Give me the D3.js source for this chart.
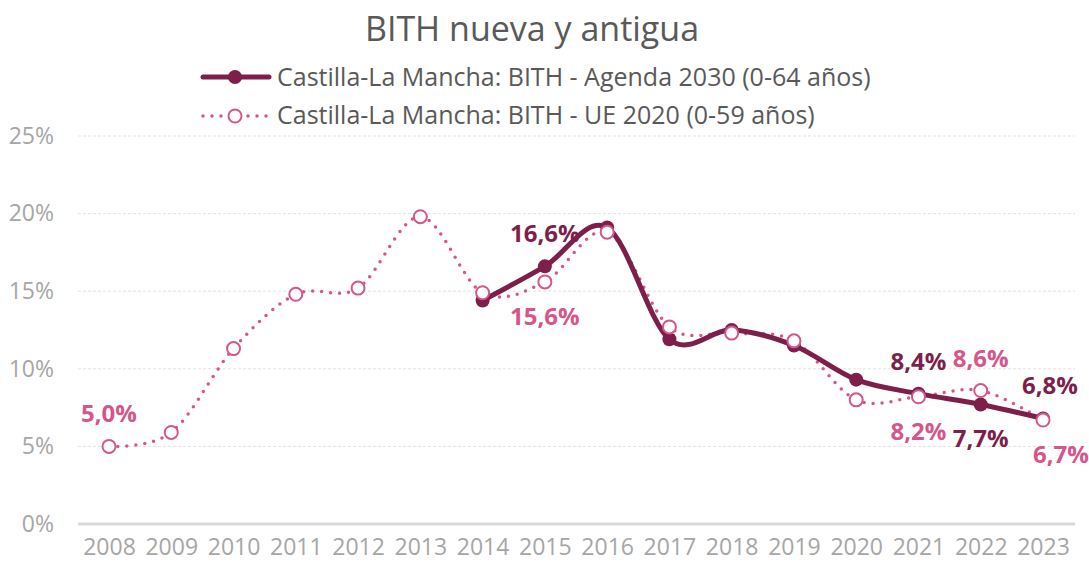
<!DOCTYPE html>
<html><head><meta charset="utf-8">
<script src="https://cdn.jsdelivr.net/npm/d3@7"></script>
<style>body{margin:0;background:#fff;} svg{display:block;}</style>
</head><body>
<script>
const years = ["2008","2009","2010","2011","2012","2013","2014","2015","2016","2017","2018","2019","2020","2021","2022","2023"];
const agenda2030 = [null,null,null,null,null,null,14.4,16.6,19.1,11.9,12.5,11.5,9.3,8.4,7.7,6.8];
const ue2020 = [5.0,5.9,11.3,14.8,15.2,19.8,14.9,15.6,18.8,12.7,12.3,11.8,8.0,8.2,8.6,6.7];
const yTicks = [0,5,10,15,20,25];
const title = "BITH nueva y antigua";
const seriesNames = ["Castilla-La Mancha: BITH - Agenda 2030 (0-64 años)","Castilla-La Mancha: BITH - UE 2020 (0-59 años)"];
const labelsAgenda = [["2015","above"],["2021","above"],["2022","below"],["2023","above"]];
const labelsUE = [["2008","above"],["2015","below"],["2021","below"],["2022","above"],["2023","below"]];

const W=1089,H=565;
const cDark="#7d1f4a", cPink="#d4568b";
const font="'Open Sans', sans-serif";
const svg=d3.select("body").append("svg").attr("width",W).attr("height",H);

const x=d3.scalePoint().domain(years).range([109,1043]);
const y=d3.scaleLinear().domain([0,25]).range([524,136]);

svg.append("g").selectAll("line").data(yTicks.filter(d=>d>0)).join("line")
  .attr("x1",78).attr("x2",1075).attr("y1",d=>y(d)).attr("y2",d=>y(d))
  .attr("stroke","#e3e3e3").attr("stroke-width",1).attr("stroke-dasharray","3,2");
svg.append("line").attr("x1",78).attr("x2",1075).attr("y1",y(0)).attr("y2",y(0))
  .attr("stroke","#d9d9d9").attr("stroke-width",3);

const yAxis=d3.axisLeft(y).tickValues(yTicks).tickFormat(d=>d+"%").tickSize(0).tickPadding(0);
const ga=svg.append("g").attr("transform","translate(54,0)").call(yAxis);
ga.select(".domain").remove();
ga.selectAll("text").attr("font-family",font).attr("font-size",23).attr("fill","#a6a6a6");

const xAxis=d3.axisBottom(x).tickSize(0).tickPadding(0);
const gx=svg.append("g").attr("transform","translate(0,539)").call(xAxis);
gx.select(".domain").remove();
gx.selectAll("text").attr("font-family",font).attr("font-size",23).attr("fill","#a6a6a6");

const curve=d3.curveCardinal.tension(0);
const ueData=years.map((yr,i)=>({yr,v:ue2020[i]})).filter(d=>d.v!=null);
const agData=years.map((yr,i)=>({yr,v:agenda2030[i]})).filter(d=>d.v!=null);
const line=d3.line().x(d=>x(d.yr)).y(d=>y(d.v)).curve(curve);

svg.append("path").datum(ueData).attr("d",line).attr("fill","none")
  .attr("stroke",cPink).attr("stroke-width",3.5).attr("stroke-linecap","round").attr("stroke-dasharray","0,9");
svg.append("path").datum(agData).attr("d",line).attr("fill","none")
  .attr("stroke",cDark).attr("stroke-width",5).attr("stroke-linecap","round");
svg.append("g").selectAll("circle").data(agData).join("circle")
  .attr("cx",d=>x(d.yr)).attr("cy",d=>y(d.v)).attr("r",7).attr("fill",cDark);
svg.append("g").selectAll("circle").data(ueData).join("circle")
  .attr("cx",d=>x(d.yr)).attr("cy",d=>y(d.v)).attr("r",6.5).attr("fill","#fff")
  .attr("stroke",cPink).attr("stroke-width",2);

function fmt(v){return v.toFixed(1).replace(".",",")+"%";}
function addLabels(list,data,color){
  const m=new Map(data.map(d=>[d.yr,d.v]));
  svg.append("g").selectAll("text").data(list).join("text")
    .attr("x",d=>x(d[0])+(d[0]==="2023"?(d[1]==="above"?7:18):0))
    .attr("y",d=>y(m.get(d[0]))+(d[1]==="above"?-24:43))
    .attr("text-anchor","middle").attr("font-family",font).attr("font-weight","bold")
    .attr("font-size",24).attr("fill",color).text(d=>fmt(m.get(d[0])));
}
addLabels(labelsAgenda,agData,cDark);
addLabels(labelsUE,ueData,cPink);

svg.append("text").attr("x",532).attr("y",41).attr("text-anchor","middle")
  .attr("font-family",font).attr("font-size",34).attr("fill","#595959").text(title);
const lg=svg.append("g");
lg.append("line").attr("x1",203).attr("x2",269).attr("y1",77).attr("y2",77).attr("stroke",cDark).attr("stroke-width",5).attr("stroke-linecap","round");
lg.append("circle").attr("cx",235).attr("cy",77).attr("r",7).attr("fill",cDark);
lg.append("text").attr("x",277).attr("y",86).attr("font-family",font).attr("font-size",25).attr("fill","#595959").text(seriesNames[0]);
lg.append("line").attr("x1",203).attr("x2",269).attr("y1",116).attr("y2",116).attr("stroke",cPink).attr("stroke-width",3.5).attr("stroke-linecap","round").attr("stroke-dasharray","0,9");
lg.append("circle").attr("cx",235).attr("cy",116).attr("r",6.5).attr("fill","#fff").attr("stroke",cPink).attr("stroke-width",2);
lg.append("text").attr("x",277).attr("y",124).attr("font-family",font).attr("font-size",25).attr("fill","#595959").text(seriesNames[1]);
</script>
</body></html>
